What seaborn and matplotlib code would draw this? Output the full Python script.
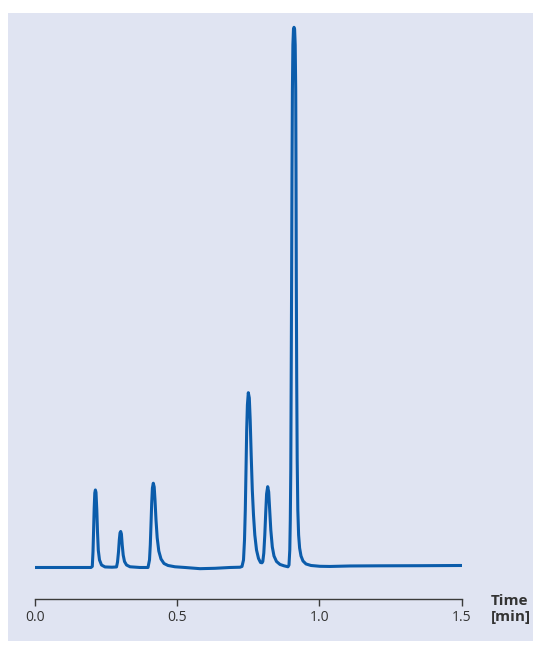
import matplotlib
matplotlib.use("Agg")
import matplotlib.pyplot as plt
import seaborn as sns
import pandas as pd
from matplotlib.patches import Rectangle

# chromatogram trace (time in min, signal in % of largest peak)
time_min = [
    0.0000, 0.1978,
    # peak 1
    0.2023, 0.2048, 0.2069, 0.2090, 0.2111, 0.2132, 0.2153, 0.2182, 0.2206, 0.2234,
    0.2276, 0.2347, 0.2470, 0.2716,
    # peak 2
    0.2874, 0.2909, 0.2944, 0.2972, 0.2997, 0.3021, 0.3046, 0.3074, 0.3109, 0.3155,
    0.3226, 0.3348, 0.3699, 0.3980,
    # peak 3
    0.4033, 0.4061, 0.4085, 0.4110, 0.4135, 0.4166, 0.4198, 0.4226, 0.4261, 0.4303,
    0.4359, 0.4437, 0.4542, 0.4683, 0.4929,
    # baseline dip
    0.5280, 0.5807, 0.6334, 0.6861, 0.7212,
    # peak 4
    0.7282, 0.7335, 0.7370, 0.7398, 0.7423, 0.7447, 0.7472, 0.7504, 0.7539, 0.7570,
    0.7605, 0.7644, 0.7686, 0.7732, 0.7792, 0.7862, 0.7932, 0.7985,
    # peak 5
    0.8013, 0.8048, 0.8083, 0.8115, 0.8146, 0.8185, 0.8220, 0.8255, 0.8294, 0.8347,
    0.8406, 0.8494, 0.8617, 0.8758, 0.8898,
    # peak 6
    0.8933, 0.8961, 0.8979, 0.8996, 0.9010, 0.9025, 0.9039, 0.9053, 0.9070, 0.9091,
    0.9109, 0.9130, 0.9151, 0.9169, 0.9179, 0.9190, 0.9204, 0.9221, 0.9243, 0.9271,
    0.9306, 0.9355, 0.9425, 0.9531, 0.9706, 1.0022, 1.0374,
    # tail
    1.1076, 1.2130, 1.3535, 1.5000,
]
signal = [
    0.00, 0.00,
    0.20, 2.90, 6.90, 11.00, 13.80, 14.35, 13.90, 10.60, 6.60, 3.20,
    1.40, 0.46, 0.10, 0.05,
    0.10, 1.00, 2.90, 5.10, 6.40, 6.66, 6.20, 4.20, 2.30, 1.10,
    0.46, 0.13, 0.00, 0.00,
    1.40, 4.20, 7.90, 11.90, 14.70, 15.60, 14.90, 12.50, 8.80, 5.50,
    3.05, 1.57, 0.74, 0.37, 0.13,
    0.00, -0.22, -0.15, 0.00, 0.05,
    0.19, 1.39, 5.09, 10.64, 18.05, 25.45, 30.08, 32.36, 31.38, 27.31,
    20.83, 14.35, 9.72, 6.02, 3.24, 1.67, 0.93, 0.87,
    1.11, 2.68, 6.02, 10.09, 13.61, 14.96, 13.98, 10.64, 6.94, 3.80,
    2.13, 1.11, 0.56, 0.31, 0.13,
    0.46, 3.24, 8.79, 18.05, 34.71, 53.22, 73.58, 88.39, 96.73, 99.69,
    100.00, 99.69, 96.73, 88.39, 73.58, 53.22, 34.71, 19.90, 10.64, 6.02,
    3.61, 2.13, 1.20, 0.65, 0.37, 0.22, 0.19,
    0.28, 0.31, 0.33, 0.37,
]
x_ticks = [0.0, 0.5, 1.0, 1.5]
x_tick_labels = ["0.0", "0.5", "1.0", "1.5"]

df = pd.DataFrame({"Time": time_min, "Signal": signal})

sns.set_style("white")
plt.rcParams["font.family"] = ["Open Sans", "DejaVu Sans"]

W, H = 537, 650
fig = plt.figure(figsize=(W / 100, H / 100), dpi=100)
fig.patch.set_facecolor("white")

# lavender panel behind the chart
panel = Rectangle((8 / W, 1 - 641 / H), (533 - 8) / W, (641 - 13) / H,
                  transform=fig.transFigure, facecolor="#e0e4f2",
                  edgecolor="none", zorder=-10)
fig.patches.append(panel)

ax = fig.add_axes([34.7 / W, 1 - 599.3 / H, 427 / W, 586.3 / H])
ax.set_facecolor("none")
ax.set_zorder(1)

sns.lineplot(data=df, x="Time", y="Signal", estimator=None, sort=False,
             color="#0b5cab", linewidth=2.2, ax=ax)

ax.set_xlim(0, 1.5)
ax.set_ylim(-5.89, 102.65)
for side in ["top", "left", "right"]:
    ax.spines[side].set_visible(False)
ax.spines["bottom"].set_color("#3a3a3a")
ax.spines["bottom"].set_linewidth(1.0)
ax.set_xticks(x_ticks)
ax.set_xticklabels(x_tick_labels)
ax.set_yticks([])
ax.tick_params(axis="x", direction="out", length=5, width=1.0, color="#3a3a3a",
               labelsize=10, labelcolor="#333333", pad=3, bottom=True)
ax.set_xlabel("")
ax.set_ylabel("")

fig.text(491 / W, 1 - 609 / H, "Time\n[min]", ha="left", va="center",
         fontsize=11, fontweight="bold", color="#333333", linespacing=1.25)

fig.savefig("out.png", dpi=100, facecolor="white")
plt.close(fig)
